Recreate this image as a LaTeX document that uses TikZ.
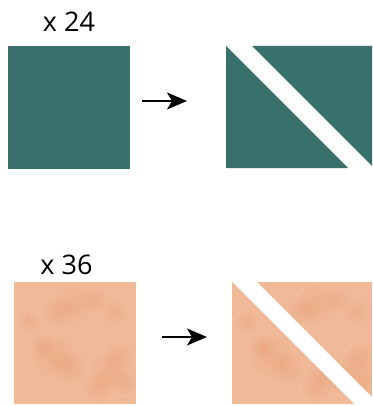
\documentclass[tikz,border=0pt]{standalone}
\usepackage{fontspec}
\setmainfont{Open Sans}
\usetikzlibrary{arrows.meta}
\definecolor{quiltteal}{RGB}{58,112,108}
\definecolor{quiltpeach}{RGB}{240,186,153}
\definecolor{peachdark}{RGB}{228,142,96}
\tikzset{
    cutarrow/.style={line width=1.8pt,-{Stealth[length=20pt,width=17pt,inset=5pt]}},
    countlabel/.style={font=\fontsize{27}{27}\selectfont,anchor=base,inner sep=0pt},
    tealpatch/.style={fill=quiltteal,draw=none,minimum size=122pt,inner sep=0pt},
}
% mottled fabric, drawn in a 122 x 122 box whose top left corner is (#1,#2)
\newcommand{\peachfabric}[2]{
    \begin{scope}[shift={(#1,#2)}]
        \fill[quiltpeach] (0,0) rectangle (122,122);
        \foreach \bx/\by/\br in {60/22/18, 45/30/14, 80/18/12, 40/75/20, 55/85/16, 30/65/12,
                                 95/90/18, 105/75/14, 85/105/14, 110/100/12, 15/40/10, 100/30/12} {
            \fill[peachdark,opacity=.07] (\bx,\by) circle (\br);
            \fill[peachdark,opacity=.07] (\bx,\by) circle (0.7*\br);
            \fill[peachdark,opacity=.07] (\bx,\by) circle (0.4*\br);
        }
    \end{scope}
}
\begin{document}
\begin{tikzpicture}[x=1pt,y=-1pt]
    \useasboundingbox (0,0) rectangle (372,406);

    % teal: whole square, then cut in two
    \node[countlabel] (tealcount) at (69,32) {x 24};
    \node[tealpatch] (tealsq) at (69,107.5) {};
    \coordinate (tealfrom) at (142,101);
    \coordinate (tealto) at (187,101);
    \draw[cutarrow] (tealfrom) -- (tealto);
    \fill[quiltteal] (226,46) -- (226,168) -- (348,168) -- cycle;
    \fill[quiltteal] (252,46) -- (372,46) -- (372,166) -- cycle;

    % peach: whole square, then cut in two
    \node[countlabel] (peachcount) at (66.5,274) {x 36};
    \begin{scope}
        \clip (14,282) rectangle (136,404);
        \peachfabric{14}{282}
    \end{scope}
    \coordinate (peachfrom) at (162,337);
    \coordinate (peachto) at (207,337);
    \draw[cutarrow] (peachfrom) -- (peachto);
    \begin{scope}
        \clip (232,282) -- (232,404) -- (354,404) -- cycle;
        \peachfabric{232}{282}
    \end{scope}
    \begin{scope}
        \clip (257,282) -- (372,282) -- (372,397) -- cycle;
        \peachfabric{257}{282}
    \end{scope}
\end{tikzpicture}
\end{document}
